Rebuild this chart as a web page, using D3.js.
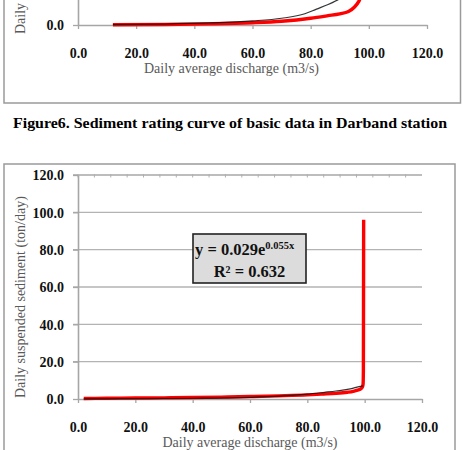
<!DOCTYPE html>
<html>
<head>
<meta charset="utf-8">
<script src="https://cdn.jsdelivr.net/npm/d3@7"></script>
<style>
  body { margin: 0; background: #fff; }
  svg { display: block; font-family: "Liberation Serif", "Times New Roman", serif; }
</style>
</head>
<body>
<svg id="chart" width="462" height="450"></svg>
<script>
// Axis ticks
let xTicks = [0, 20, 40, 60, 80, 100, 120];
let yTicks = [0, 20, 40, 60, 80, 100, 120];

// Upper chart (cut off at the top of the page)
let topBlackX = [12, 30, 45, 60, 70, 78, 82, 86, 89.5];
let topBlackY = [0.2, 0.5, 1.1, 2.2, 3.6, 6.0, 8.5, 11.0, 13.6];
let topRedX = [12, 30, 45, 60, 70, 80, 86, 90, 93, 95, 96.5, 97.5];
let topRedY = [0.1, 0.3, 0.6, 1.2, 2.0, 3.6, 5.0, 6.0, 7.2, 9.5, 12.5, 16.0];

// Lower chart
let redX = [2, 10, 20, 30, 40, 50, 60, 70, 80, 85, 90, 94, 96, 97.5, 98.6, 99.2, 99.45, 99.55, 99.6, 99.65];
let redY = [0.3, 0.4, 0.5, 0.6, 0.8, 1.0, 1.3, 1.7, 2.2, 2.6, 3.0, 3.6, 4.1, 4.7, 5.4, 6.4, 8.0, 15, 50, 96];
let blackX = [2, 20, 40, 60, 70, 80, 86, 90, 95, 97, 99.5];
let blackY = [0.1, 0.2, 0.4, 0.9, 1.5, 2.6, 3.6, 4.3, 5.4, 6.2, 7.0];

let caption = "Figure6. Sediment rating curve of basic data in Darband station";
let xTitle = "Daily average discharge (m3/s)";
let yTitle = "Daily suspended sediment (ton/day)";
let eqMain = "y = 0.029e";
let eqExp = "0.055x";
let r2Text = "R² = 0.632";

let svg = d3.select("#chart");
let fmt = d3.format(".1f");
let axisGray = "#a6a6a6";
let titleGray = "#595959";

function zip(xs, ys) {
    return xs.map((x, i) => ({ x: x, y: ys[i] }));
}

// Draws axes, labels and curves of one chart panel
function drawPanel(g, x, y, red, black, opts) {
    // Gridlines (lower chart only)
    if (opts.grid) {
        g.append("g")
            .selectAll("line")
            .data(yTicks.filter(t => t > 0 && t < 120))
            .enter()
            .append("line")
            .attr("x1", x(0) - 5)
            .attr("x2", x(120))
            .attr("y1", d => y(d))
            .attr("y2", d => y(d))
            .attr("stroke", "#b3b3b3")
            .attr("stroke-width", 1.3);

        // top line with small ticks
        g.append("line")
            .attr("x1", x(0) - 5).attr("x2", x(120))
            .attr("y1", y(120)).attr("y2", y(120))
            .attr("stroke", "#bdbdbd").attr("stroke-width", 2);
        g.append("g")
            .selectAll("line")
            .data(d3.range(0, 120, 120 / 21))
            .enter()
            .append("line")
            .attr("x1", d => x(d)).attr("x2", d => x(d))
            .attr("y1", y(120) - 1).attr("y2", y(120) + 2.5)
            .attr("stroke", "#b0b0b0").attr("stroke-width", 1);
    }

    // Y axis
    let yAxis = g.append("g")
        .attr("transform", `translate(${x(0)},0)`)
        .call(d3.axisLeft(y).tickValues(opts.yTicks).tickFormat(fmt).tickSize(5).tickSizeOuter(0));
    yAxis.select(".domain").attr("stroke", axisGray).attr("stroke-width", 1.6);
    yAxis.selectAll(".tick line").attr("stroke", axisGray).attr("stroke-width", 1.3);
    yAxis.selectAll(".tick text")
        .attr("x", -14)
        .attr("dy", "0.35em")
        .attr("fill", "#111")
        .style("font-family", "Liberation Serif")
        .style("font-size", "14px")
        .style("font-weight", "bold");

    // X axis
    let xAxis = g.append("g")
        .attr("transform", `translate(0,${y(0)})`)
        .call(d3.axisBottom(x).tickValues(xTicks).tickFormat(fmt).tickSize(4).tickSizeOuter(0));
    xAxis.select(".domain").attr("stroke", axisGray).attr("stroke-width", 1.6);
    xAxis.selectAll(".tick line").attr("stroke", axisGray).attr("stroke-width", 1.3);
    xAxis.selectAll(".tick text")
        .attr("y", 28)
        .attr("dy", "0.35em")
        .attr("fill", "#111")
        .style("font-family", "Liberation Serif")
        .style("font-size", "14px")
        .style("font-weight", "bold");

    // Curves
    let line = d3.line()
        .x(d => x(d.x))
        .y(d => y(d.y))
        .curve(d3.curveMonotoneX);

    g.append("path")
        .datum(red)
        .attr("d", line)
        .attr("fill", "none")
        .attr("stroke", "#ff0000")
        .attr("stroke-width", 3.4)
        .attr("stroke-linejoin", "round");

    g.append("path")
        .datum(black)
        .attr("d", line)
        .attr("fill", "none")
        .attr("stroke", "#111")
        .attr("stroke-width", 1.2)
        .attr("stroke-opacity", 0.85);

    // Axis titles
    g.append("text")
        .attr("x", (x(0) + x(120)) / 2 + opts.xTitleShift)
        .attr("y", y(0) + 48)
        .attr("text-anchor", "middle")
        .attr("fill", titleGray)
        .style("font-size", "14px")
        .text(xTitle);

    g.append("text")
        .attr("transform", `translate(25,${opts.yTitleStart}) rotate(-90)`)
        .attr("text-anchor", "start")
        .attr("fill", titleGray)
        .style("font-size", "14px")
        .text(yTitle);
}

svg.append("rect").attr("width", 462).attr("height", 450).attr("fill", "#fff");

// ---- Upper chart ----
let topG = svg.append("g");
topG.append("rect")
    .attr("x", 4).attr("y", -300)
    .attr("width", 456.5).attr("height", 403)
    .attr("fill", "none").attr("stroke", "#9a9a9a").attr("stroke-width", 1.5);

let xTop = d3.scaleLinear().domain([0, 120]).range([78, 427]);
let yTop = d3.scaleLinear().domain([0, 120]).range([25, 25 - 224]);
drawPanel(topG, xTop, yTop, zip(topRedX, topRedY), zip(topBlackX, topBlackY),
    { grid: false, yTicks: [0], xTitleShift: -21, yTitleStart: 34 });

// ---- Caption ----
svg.append("text")
    .attr("x", 230)
    .attr("y", 128)
    .attr("text-anchor", "middle")
    .attr("fill", "#000")
    .attr("textLength", 434)
    .attr("lengthAdjust", "spacingAndGlyphs")
    .style("font-size", "15.5px")
    .style("font-weight", "bold")
    .text(caption);

// ---- Lower chart ----
let botG = svg.append("g");
botG.append("rect")
    .attr("x", 4).attr("y", 164)
    .attr("width", 451).attr("height", 320)
    .attr("fill", "none").attr("stroke", "#9a9a9a").attr("stroke-width", 1.5);

let x = d3.scaleLinear().domain([0, 120]).range([78, 422]);
let y = d3.scaleLinear().domain([0, 120]).range([399, 175]);
drawPanel(botG, x, y, zip(redX, redY), zip(blackX, blackY),
    { grid: true, yTicks: yTicks, xTitleShift: 0, yTitleStart: 398 });

// Trendline equation box
let box = botG.append("g");
box.append("rect")
    .attr("x", 193).attr("y", 234)
    .attr("width", 113).attr("height", 49)
    .attr("fill", "#dcdcdc")
    .attr("stroke", "#222")
    .attr("stroke-width", 1.6);

let eq = box.append("text")
    .attr("x", 195)
    .attr("y", 255)
    .attr("fill", "#111")
    .style("font-size", "16.5px")
    .style("font-weight", "bold");
eq.append("tspan").text(eqMain);
eq.append("tspan")
    .attr("dy", -6)
    .style("font-size", "10.5px")
    .text(eqExp);

box.append("text")
    .attr("x", 249.5)
    .attr("y", 277)
    .attr("text-anchor", "middle")
    .attr("fill", "#111")
    .style("font-size", "16.5px")
    .style("font-weight", "bold")
    .text(r2Text);
</script>
</body>
</html>
